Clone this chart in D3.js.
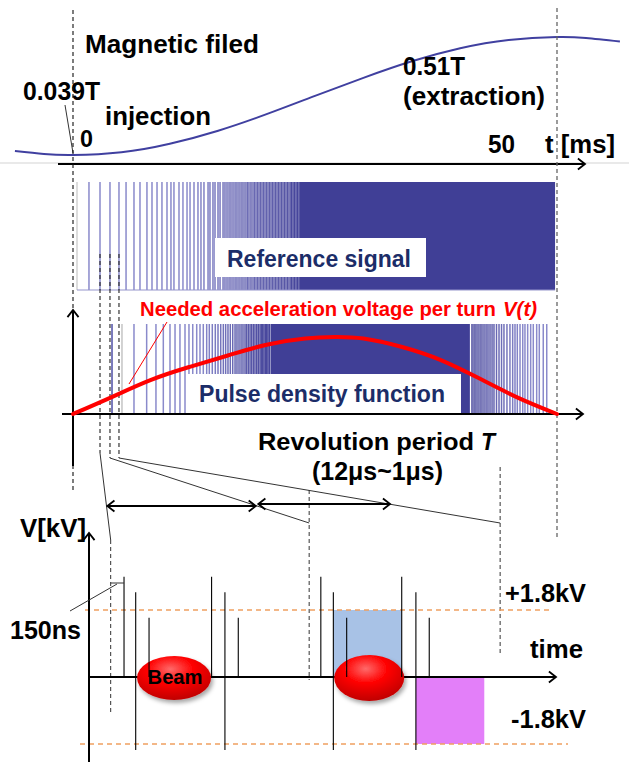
<!DOCTYPE html>
<html><head><meta charset="utf-8">
<script src="https://cdn.jsdelivr.net/npm/d3@7"></script>
<style>
body{margin:0;background:#fff}
svg{display:block}
text{font-family:"Liberation Sans",Arial,sans-serif;font-weight:bold}
</style>
</head><body>
<svg id="c" width="629" height="762"></svg>
<script>
// ---------------- DATA ----------------
// Magnetic field B(t): time in ms, field in T
const magT = [-6, -3, 0, 5, 10, 15, 20, 25, 30, 35, 40, 45, 50, 53, 56.5];
const magB = [0.055, 0.043, 0.039, 0.050, 0.084, 0.136, 0.202, 0.275, 0.347, 0.413, 0.465, 0.498, 0.510, 0.506, 0.492];
// Needed acceleration voltage per turn V(t) (relative)
const voltT = [0, 4, 8, 12, 16, 20, 24, 27, 30, 34, 38, 42, 46, 50];
const voltV = [0, 0.22, 0.44, 0.61, 0.76, 0.90, 0.98, 1.0, 0.98, 0.87, 0.70, 0.46, 0.21, 0];
// Reference signal pulse times (ms); after refDense[0] the pulses merge into a solid band
const refPulses = [1.65,2.79,3.82,4.75,5.48,6.30,6.92,7.64,8.16,8.68,9.19,9.71,10.12,10.43,10.95,11.36,11.78,12.09,12.50,12.91,13.22,13.53,13.95,14.15,14.46,14.67,14.98,15.19,15.50,15.70,15.91,16.12,16.32,16.53,16.74,16.94,17.15,17.36,17.56,17.77,17.98,18.08,18.29,18.49,18.70,18.80,19.01,19.11,19.32,19.42,19.63,19.73,19.94,20.04,20.25,20.35,20.56,20.66,20.87,20.97,21.18,21.28,21.49,21.59,21.80,21.90,22.11,22.21,22.42,22.57,22.73,22.88,23.04,23.19,23.35];
const refDense = [23.4, 49.8];
// Pulse density function pulse times (ms); between pdDense the pulses merge
const pdPulses = [4.03,5.06,6.30,7.61,8.57,9.33,10.02,10.54,11.05,11.57,11.98,12.37,12.78,13.12,13.46,13.81,14.08,14.39,14.70,14.98,15.26,15.53,15.77,16.01,16.25,16.50,16.74,16.94,17.15,17.36,17.56,17.77,17.94,18.11,18.29,18.46,18.63,18.80,18.98,19.14,19.32,19.45,19.60,19.73,19.87,20.01,20.14,20.28,
  41.22,41.43,41.63,41.84,42.05,42.25,42.46,42.67,42.87,43.08,43.29,43.49,43.75,44.01,44.27,44.52,44.83,45.14,45.42,45.66,45.90,46.18,46.46,46.69,46.97,47.28,47.55,47.90,48.17,48.58,48.94];
const pdDense = [20.4, 41.0];
// Bottom panel: time in µs, voltage in kV
const pulseT      = [0.42, 0.56, 0.72, 1.47, 1.63, 1.79, 2.78, 2.93, 3.09, 3.75, 3.92, 4.08];
const pulseTop    = [2.69, 2.28, 1.59, 2.69, 2.28, 1.59, 2.69, 2.28, 1.59, 2.69, 2.28, 1.59];
const pulseBottom = [0, -1.96, 0, 0, -1.96, 0, 0, -1.96, 0, 0, -1.96, 0];
const beamT = [1.02, 3.36];
const levelKV = [1.8, -1.8];
const accelWin = [2.93, 3.75];   // +1.8 kV window
const decelWin = [3.92, 4.74];   // -1.8 kV window
const markerUs = [0.26, 2.64, 4.93];
const periodSpans = [[0.22, 2.0], [2.03, 3.61]];

// ---------------- SCALES ----------------
const xT = d3.scaleLinear().domain([0, 50]).range([73, 557]);
const yB = d3.scaleLinear().domain([0.039, 0.51]).range([155, 37]);
const yV = d3.scaleLinear().domain([0, 1]).range([414, 337]);
const xU = d3.scaleLinear().domain([0, 5.6]).range([89, 556]);
const yK = d3.scaleLinear().domain([-1.8, 1.8]).range([744, 610]);

const light = "#8a8acb", dark = "#45449a";
const refCol = d3.scaleLinear().domain([12, 23.4]).range([light, dark]).clamp(true).interpolate(d3.interpolateRgb);
const pdColL = d3.scaleLinear().domain([13, 20.4]).range([light, dark]).clamp(true).interpolate(d3.interpolateRgb);
const pdColR = d3.scaleLinear().domain([41.0, 46.5]).range([dark, light]).clamp(true).interpolate(d3.interpolateRgb);

const svg = d3.select("#c");
const defs = svg.append("defs");
const rg = defs.append("radialGradient").attr("id","beamG").attr("cx","45%").attr("cy","30%").attr("r","70%");
rg.append("stop").attr("offset","0%").attr("stop-color","#ff6a6a");
rg.append("stop").attr("offset","45%").attr("stop-color","#ff0000");
rg.append("stop").attr("offset","100%").attr("stop-color","#c00000");
const fl = defs.append("filter").attr("id","sh").attr("x","-30%").attr("y","-30%").attr("width","160%").attr("height","170%");
fl.append("feDropShadow").attr("dx",2).attr("dy",3).attr("stdDeviation",2).attr("flood-color","#000").attr("flood-opacity",0.35);

function line(x1,y1,x2,y2,st,w,dash){
  const l = svg.append("line").attr("x1",x1).attr("y1",y1).attr("x2",x2).attr("y2",y2)
    .attr("stroke",st||"#000").attr("stroke-width",w||1);
  if(dash) l.attr("stroke-dasharray",dash);
  return l;
}
function chev(x,y,deg,len,w){
  len = len||9; const a = deg*Math.PI/180, s = 38*Math.PI/180;
  const p1=[x-len*Math.cos(a-s), y-len*Math.sin(a-s)], p2=[x-len*Math.cos(a+s), y-len*Math.sin(a+s)];
  svg.append("polyline").attr("points",[p1,[x,y],p2].map(p=>p.join(",")).join(" "))
    .attr("fill","none").attr("stroke","#000").attr("stroke-width",w||1.8);
}
function txt(x,y,s,size,len,opt){
  opt = opt||{};
  const t = svg.append("text").attr("x",x).attr("y",y).attr("font-size",size)
    .attr("fill",opt.fill||"#000").attr("text-anchor",opt.anchor||"start").text(s);
  if(opt.italic) t.attr("font-style","italic");
  if(len) t.attr("textLength",len).attr("lengthAdjust","spacingAndGlyphs");
  return t;
}

// ---------------- TOP: magnetic field ----------------
line(0,163,629,163,"#c8c8c8",0.8);
line(58,164,584,164,"#000",2);
chev(585,164,0);
svg.append("path").datum(magT.map((t,i)=>[t,magB[i]]))
  .attr("d", d3.line().x(d=>xT(d[0])).y(d=>yB(d[1])).curve(d3.curveNatural))
  .attr("fill","none").attr("stroke","#4040a0").attr("stroke-width",2);
line(65,105,xT(0),yB(0.039)-2,"#333",1);

txt(85,53,"Magnetic filed",25,174);
txt(23,100,"0.039T",25,77);
txt(105,125,"injection",25,106);
txt(80,147,"0",24,13);
txt(403,75,"0.51T",25,62);
txt(403,105,"(extraction)",25,142);
txt(488,153,"50",25,27);
txt(545,153,"t [ms]",25,70);

// ---------------- Reference signal ----------------
const refTop = 182, refBot = 290;
line(77,refTop,77,refBot,"#bbbbbb",1);
svg.append("rect").attr("x",xT(refDense[0])).attr("y",refTop)
  .attr("width",xT(refDense[1])-xT(refDense[0])).attr("height",refBot-refTop).attr("fill","#403f96");
svg.append("g").selectAll("line").data(refPulses).join("line")
  .attr("x1",d=>xT(d)).attr("x2",d=>xT(d)).attr("y1",refTop).attr("y2",refBot)
  .attr("stroke",d=>refCol(d)).attr("stroke-width",1.5);
line(77,refBot,xT(refDense[1]),refBot,"#9595cc",1);
svg.append("rect").attr("x",215).attr("y",238).attr("width",211).attr("height",39).attr("fill","#fff");
txt(227,267,"Reference signal",23,184,{fill:"#1c2d68"});

// ---------------- Pulse density + V(t) ----------------
const pdTop = 324, pdBot = 414;
svg.append("rect").attr("x",xT(pdDense[0])).attr("y",pdTop)
  .attr("width",xT(pdDense[1])-xT(pdDense[0])).attr("height",pdBot-pdTop).attr("fill","#403f96");
svg.append("g").selectAll("line").data(pdPulses).join("line")
  .attr("x1",d=>xT(d)).attr("x2",d=>xT(d)).attr("y1",pdTop).attr("y2",pdBot)
  .attr("stroke",(d,i)=> i===0 ? "#5050a6" : i===1 ? "#c4c4c4" : d>30 ? pdColR(d) : pdColL(d))
  .attr("stroke-width",1.5);
svg.append("rect").attr("x",187).attr("y",374).attr("width",274).attr("height",40).attr("fill","#fff");
txt(199,402,"Pulse density function",23,246,{fill:"#1c2d68"});

// dashed markers at individual reference pulses
[1,2,3].forEach((k,i)=>{
  line(xT(refPulses[k]),254,xT(refPulses[k]), i===0?453:458,"#222",1.1,"4,3");
});
// left/right dashed time markers
line(xT(0),10,xT(0),490,"#111",1.1,"4,3");
line(xT(50),8,xT(50),540,"#666",1.3,"4,3");

// axes of pulse-density panel
line(62,pdBot,582,pdBot,"#000",2);
chev(583,pdBot,0);
line(xT(0),466,xT(0),311,"#000",2);
chev(xT(0),310,-90);

// V(t) curve
svg.append("path").datum(voltT.map((t,i)=>[t,voltV[i]]))
  .attr("d", d3.line().x(d=>xT(d[0])).y(d=>yV(d[1])).curve(d3.curveNatural))
  .attr("fill","none").attr("stroke","#ff0000").attr("stroke-width",4).attr("stroke-linecap","round");
line(129,384,167,322,"#ff0000",1);
txt(140,316,"Needed acceleration voltage per turn",20,356,{fill:"#ff0000"});
txt(503,316,"V(t)",21,34,{fill:"#ff0000",italic:true});

// Revolution period text
txt(258,450,"Revolution period",24,216);
txt(481,450,"T",24,14,{italic:true});
txt(312,480,"(12μs~1μs)",25,131);

// fan lines to the bottom panel
line(xT(refPulses[1]),453,xU(markerUs[0]),540,"#333",1);
line(xT(refPulses[2]),458,xU(markerUs[1]),523,"#333",1);
line(xT(refPulses[3]),458,xU(markerUs[2]),523,"#333",1);
line(xU(markerUs[0]),540,xU(markerUs[0]),715,"#333",1,"4,3");
line(xU(markerUs[1]),490,xU(markerUs[1]),680,"#333",1,"4,3");
line(xU(markerUs[2]),467,xU(markerUs[2]),656,"#333",1,"4,3");

// period double arrows
periodSpans.forEach((s,i)=>{
  const y = i===0?506:504;
  line(xU(s[0]),y,xU(s[1]),y,"#000",1.8);
  chev(xU(s[0]),y,180); chev(xU(s[1]),y,0);
});

// ---------------- BOTTOM: RF voltage ----------------
svg.append("rect").attr("x",xU(accelWin[0])).attr("y",yK(1.8))
  .attr("width",xU(accelWin[1])-xU(accelWin[0])).attr("height",yK(0)-yK(1.8)).attr("fill","#a8c2e6");
svg.append("rect").attr("x",xU(decelWin[0])).attr("y",yK(0))
  .attr("width",xU(decelWin[1])-xU(decelWin[0])).attr("height",yK(-1.8)-yK(0)).attr("fill","#e37ff9");
line(85,yK(levelKV[0]),550,yK(levelKV[0]),"#f0a060",1.3,"5,4");
line(80,yK(levelKV[1]),568,yK(levelKV[1]),"#f0a060",1.3,"5,4");

line(xU(0),762,xU(0),534,"#000",2);
chev(xU(0),533,-90);
line(xU(0),yK(0),555,yK(0),"#000",2);
chev(556,yK(0),0);

svg.append("g").selectAll("ellipse").data(beamT).join("ellipse")
  .attr("cx",d=>xU(d)).attr("cy",yK(0)+1).attr("rx",(d,i)=>i===0?37:35).attr("ry",(d,i)=>i===0?22:23)
  .attr("fill","url(#beamG)").attr("filter","url(#sh)");
txt(xU(beamT[0])+1,684,"Beam",20,55,{anchor:"middle"});

svg.append("g").selectAll("line").data(pulseT).join("line")
  .attr("x1",d=>xU(d)).attr("x2",d=>xU(d))
  .attr("y1",(d,i)=>yK(pulseTop[i])).attr("y2",(d,i)=>yK(pulseBottom[i]))
  .attr("stroke","#000").attr("stroke-width",1.1);

// 150 ns annotation
line(xU(markerUs[0]),583,xU(pulseT[0]),583,"#333",1);
line(70,611,117,584,"#333",1);

txt(20,537,"V[kV]",25,66);
txt(10,639,"150ns",25,71);
txt(505,602,"+1.8kV",25,81);
txt(530,658,"time",25,53);
txt(511,728,"-1.8kV",25,75);
</script>
</body></html>
